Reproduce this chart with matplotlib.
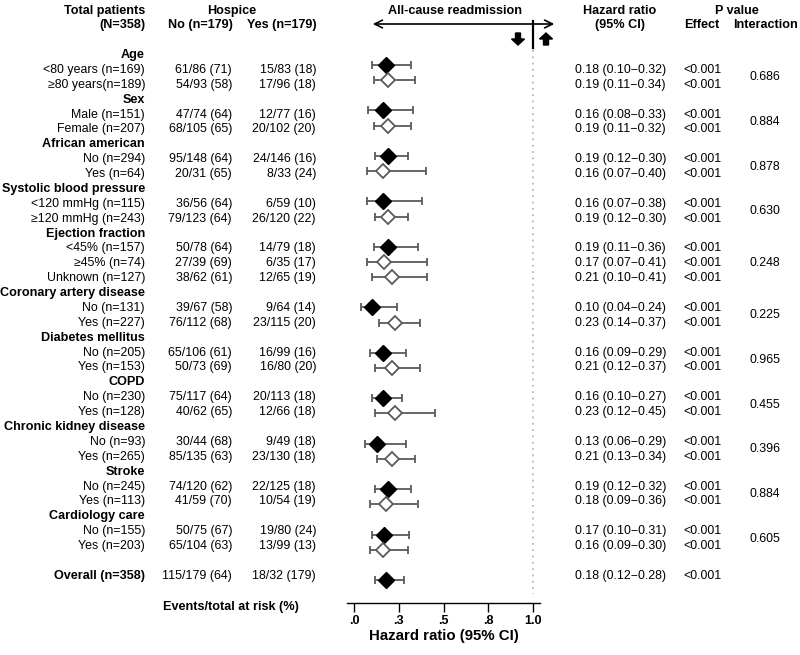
import matplotlib as mpl
mpl.use('Agg')
import matplotlib.pyplot as plt
from matplotlib.patches import FancyArrow

plt.rcParams['font.family'] = ['Liberation Sans', 'DejaVu Sans']

# Subgroups and table values
groups = ['Age', 'Sex', 'African american', 'Systolic blood pressure', 'Ejection fraction',
          'Coronary artery disease', 'Diabetes mellitus', 'COPD', 'Chronic kidney disease',
          'Stroke', 'Cardiology care']
sub_labels = [['<80 years (n=169)', '\u226580 years(n=189)'],
              ['Male (n=151)', 'Female (n=207)'],
              ['No (n=294)', 'Yes (n=64)'],
              ['<120 mmHg (n=115)', '\u2265120 mmHg (n=243)'],
              ['<45% (n=157)', '\u226545% (n=74)', 'Unknown (n=127)'],
              ['No (n=131)', 'Yes (n=227)'],
              ['No (n=205)', 'Yes (n=153)'],
              ['No (n=230)', 'Yes (n=128)'],
              ['No (n=93)', 'Yes (n=265)'],
              ['No (n=245)', 'Yes (n=113)'],
              ['No (n=155)', 'Yes (n=203)']]
no_hospice = [['61/86 (71)', '54/93 (58)'], ['47/74 (64)', '68/105 (65)'],
              ['95/148 (64)', '20/31 (65)'], ['36/56 (64)', '79/123 (64)'],
              ['50/78 (64)', '27/39 (69)', '38/62 (61)'], ['39/67 (58)', '76/112 (68)'],
              ['65/106 (61)', '50/73 (69)'], ['75/117 (64)', '40/62 (65)'],
              ['30/44 (68)', '85/135 (63)'], ['74/120 (62)', '41/59 (70)'],
              ['50/75 (67)', '65/104 (63)']]
yes_hospice = [['15/83 (18)', '17/96 (18)'], ['12/77 (16)', '20/102 (20)'],
               ['24/146 (16)', '8/33 (24)'], ['6/59 (10)', '26/120 (22)'],
               ['14/79 (18)', '6/35 (17)', '12/65 (19)'], ['9/64 (14)', '23/115 (20)'],
               ['16/99 (16)', '16/80 (20)'], ['20/113 (18)', '12/66 (18)'],
               ['9/49 (18)', '23/130 (18)'], ['22/125 (18)', '10/54 (19)'],
               ['19/80 (24)', '13/99 (13)']]
hr = [[0.18, 0.19], [0.16, 0.19], [0.19, 0.16], [0.16, 0.19], [0.19, 0.17, 0.21],
      [0.10, 0.23], [0.16, 0.21], [0.16, 0.23], [0.13, 0.21], [0.19, 0.18], [0.17, 0.16]]
hr_lo = [[0.10, 0.11], [0.08, 0.11], [0.12, 0.07], [0.07, 0.12], [0.11, 0.07, 0.10],
         [0.04, 0.14], [0.09, 0.12], [0.10, 0.12], [0.06, 0.13], [0.12, 0.09], [0.10, 0.09]]
hr_hi = [[0.32, 0.34], [0.33, 0.32], [0.30, 0.40], [0.38, 0.30], [0.36, 0.41, 0.41],
         [0.24, 0.37], [0.29, 0.37], [0.27, 0.45], [0.29, 0.34], [0.32, 0.36], [0.31, 0.30]]
p_interaction = ['0.686', '0.884', '0.878', '0.630', '0.248', '0.225',
                 '0.965', '0.455', '0.396', '0.884', '0.605']
p_effect = '<0.001'

overall_label = 'Overall (n=358)'
overall_no = '115/179 (64)'
overall_yes = '18/32 (179)'
overall_hr, overall_lo, overall_hi = 0.18, 0.12, 0.28

xticks = [0.0, 0.25, 0.5, 0.75, 1.0]
xticklabels = ['.0', '.3', '.5', '.8', '1.0']

FS = 8.9
BFS = 9.1
GRAY = '#5a5a5a'

# forest rows sit on a slightly wider grid than the table text
F_Y0, F_DY = 49.85, 15.15


def text_y(idx):
    # pixel row of the table text
    return 55 + idx * 14.88


def fmt_ci(h, l, u):
    return '{:.2f} ({:.2f}\u2212{:.2f})'.format(h, l, u)


fig = plt.figure(figsize=(8, 6.55), dpi=100)

# background axes in pixel units for the table text
bg = fig.add_axes([0, 0, 1, 1])
bg.set_xlim(0, 800)
bg.set_ylim(655, 0)
bg.axis('off')

# forest panel
fy0, fy1 = 45, 602.7
ax = fig.add_axes([347 / 800, 1 - fy1 / 655, 193 / 800, (fy1 - fy0) / 655])
ax.patch.set_visible(False)
ax.set_xlim(-7 / 179, 1 + 7 / 179)
ax.set_ylim((fy1 - F_Y0) / F_DY, (fy0 - F_Y0) / F_DY)

# headers
hdr = dict(fontsize=BFS, fontweight='bold', va='center')
bg.text(145, 11, 'Total patients', ha='right', **hdr)
bg.text(145, 25, '(N=358)', ha='right', **hdr)
bg.text(232, 11, 'Hospice', ha='center', **hdr)
bg.text(200, 25, 'No (n=179)', ha='center', **hdr)
bg.text(282, 25, 'Yes (n=179)', ha='center', **hdr)
bg.text(455, 11, 'All-cause readmission', ha='center', **hdr)
bg.text(620, 11, 'Hazard ratio', ha='center', **hdr)
bg.text(620, 25, '(95% CI)', ha='center', **hdr)
bg.text(737, 11, 'P value', ha='center', **hdr)
bg.text(702, 25, 'Effect', ha='center', **hdr)
bg.text(765, 25, 'Interaction', ha='center', **hdr)
bg.text(231, 607, 'Events/total at risk (%)', ha='center', **hdr)

# direction arrows above the forest panel
bg.annotate('', xy=(370, 24), xytext=(557, 24),
            arrowprops=dict(arrowstyle='<->', lw=1.2, color='black', mutation_scale=14))
bg.plot([533, 533], [21, 48], color='black', lw=1.6)
bg.add_patch(FancyArrow(518, 33, 0, 12, width=5, head_width=13, head_length=6,
                        length_includes_head=True, color='black'))
bg.add_patch(FancyArrow(546, 45, 0, -12, width=5, head_width=13, head_length=6,
                        length_includes_head=True, color='black'))

# reference line at HR = 1
ax.plot([1, 1], [0.0, 35.9], color='#b8b8b8', lw=1.3, linestyle=(0, (1, 2.5)))

idx = 0
for g, name in enumerate(groups):
    bg.text(145, text_y(idx), name, ha='right', va='center', fontsize=BFS, fontweight='bold')
    first = idx + 1
    for k, lab in enumerate(sub_labels[g]):
        idx += 1
        y = text_y(idx)
        bg.text(145, y, lab, ha='right', va='center', fontsize=FS)
        bg.text(232, y, no_hospice[g][k], ha='right', va='center', fontsize=FS)
        bg.text(316, y, yes_hospice[g][k], ha='right', va='center', fontsize=FS)
        bg.text(575, y, fmt_ci(hr[g][k], hr_lo[g][k], hr_hi[g][k]), ha='left', va='center', fontsize=FS)
        bg.text(683, y, p_effect, ha='left', va='center', fontsize=FS)

        h = hr[g][k]
        ax.errorbar(h, idx, xerr=[[h - hr_lo[g][k]], [hr_hi[g][k] - h]], fmt='none',
                    ecolor=GRAY, elinewidth=1.3, capsize=3, capthick=1.3, zorder=2)
        if k == 0:
            ax.plot(h, idx, marker='D', ms=8, mfc='black', mec='black', zorder=3)
        else:
            ax.plot(h, idx, marker='D', ms=7.5, mfc='white', mec=GRAY, mew=1.3, zorder=3)
    last = idx
    bg.text(765, (text_y(first) + text_y(last)) / 2, p_interaction[g], ha='center',
            va='center', fontsize=FS)
    idx += 1

# overall row, after one blank row
idx += 1
y = text_y(idx)
bg.text(145, y, overall_label, ha='right', va='center', fontsize=BFS, fontweight='bold')
bg.text(232, y, overall_no, ha='right', va='center', fontsize=FS)
bg.text(316, y, overall_yes, ha='right', va='center', fontsize=FS)
bg.text(575, y, fmt_ci(overall_hr, overall_lo, overall_hi), ha='left', va='center', fontsize=FS)
bg.text(683, y, p_effect, ha='left', va='center', fontsize=FS)
ax.errorbar(overall_hr, idx, xerr=[[overall_hr - overall_lo], [overall_hi - overall_hr]],
            fmt='none', ecolor=GRAY, elinewidth=1.3, capsize=3, capthick=1.3, zorder=2)
ax.plot(overall_hr, idx, marker='D', ms=8, mfc='black', mec='black', zorder=3)

for s in ['top', 'left', 'right']:
    ax.spines[s].set_visible(False)
ax.spines['bottom'].set_linewidth(1.0)
ax.set_yticks([])
ax.set_xticks(xticks)
ax.set_xticklabels(xticklabels, fontsize=BFS, fontweight='bold')
ax.tick_params(axis='x', direction='out', length=6.5, width=1.0, pad=2)
ax.set_xlabel('Hazard ratio (95% CI)', fontsize=10.8, fontweight='bold', labelpad=2)

fig.savefig('out.png', dpi=100)
